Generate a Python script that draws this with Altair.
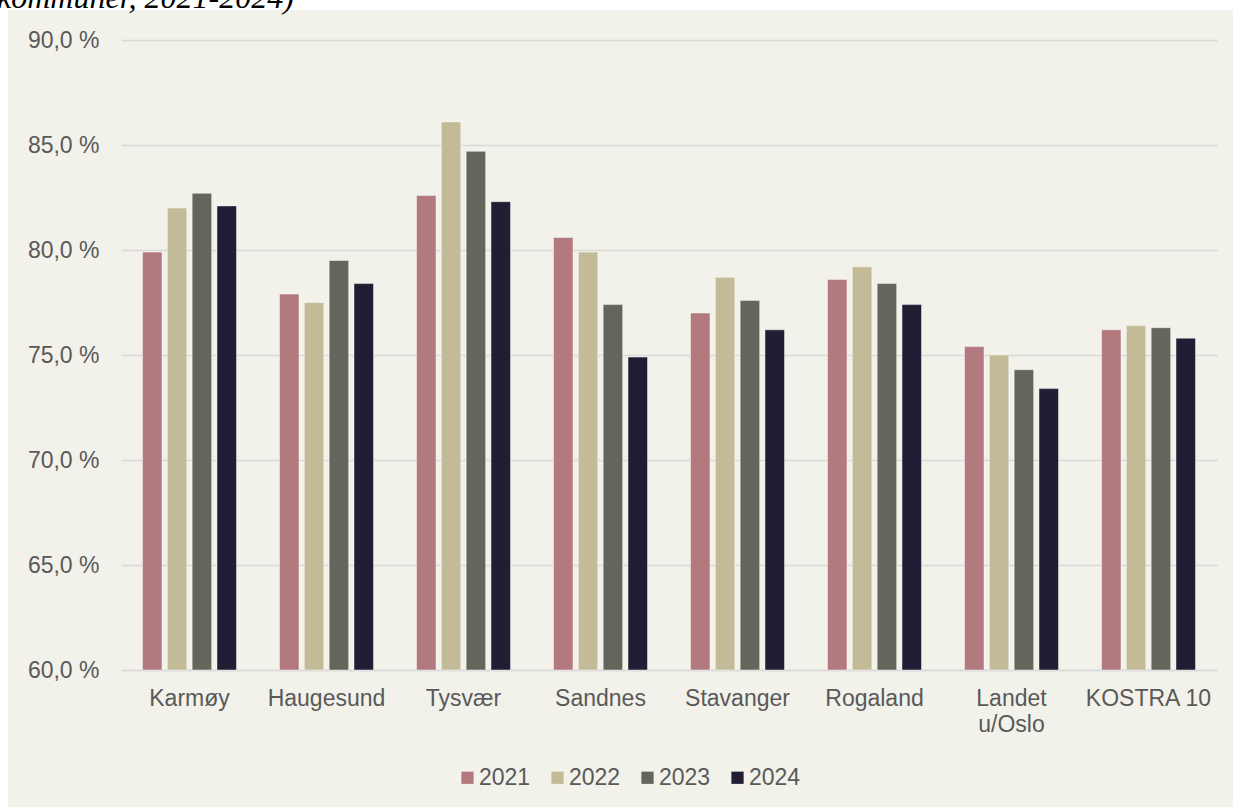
import altair as alt
import pandas as pd

# Categories (municipalities / comparison groups) and series years
kategorier = ["Karmøy", "Haugesund", "Tysvær", "Sandnes", "Stavanger",
              "Rogaland", "Landet u/Oslo", "KOSTRA 10"]
aar = ["2021", "2022", "2023", "2024"]

# Share in percent per category, one list per year
v2021 = [79.9, 77.9, 82.6, 80.6, 77.0, 78.6, 75.4, 76.2]
v2022 = [82.0, 77.5, 86.1, 79.9, 78.7, 79.2, 75.0, 76.4]
v2023 = [82.7, 79.5, 84.7, 77.4, 77.6, 78.4, 74.3, 76.3]
v2024 = [82.1, 78.4, 82.3, 74.9, 76.2, 77.4, 73.4, 75.8]

y_ticks = [60, 65, 70, 75, 80, 85, 90]
y_min, y_max = 60, 90
farger = ["#b27a7e", "#c3bb97", "#65665b", "#221c35"]

rows = []
for year, vals in zip(aar, [v2021, v2022, v2023, v2024]):
    for k, v in zip(kategorier, vals):
        rows.append({"Kategori": k, "År": year, "Andel": v})
df = pd.DataFrame(rows)

W, H = 1096, 630
PAD = {"left": 121, "top": 40, "right": 16, "bottom": 137}
BG = "#f2f1ea"
TXT = "#595959"
FONT = "Liberation Sans"
one = pd.DataFrame({"p": [0]})

# White page margins above and left of the beige panel
top_strip = alt.Chart(one).mark_rect(color="#ffffff").encode(
    x=alt.value(-PAD["left"]), x2=alt.value(W + PAD["right"]),
    y=alt.value(-PAD["top"]), y2=alt.value(10 - PAD["top"]),
)
left_strip = alt.Chart(one).mark_rect(color="#ffffff").encode(
    x=alt.value(-PAD["left"]), x2=alt.value(8 - PAD["left"]),
    y=alt.value(-PAD["top"]), y2=alt.value(H + PAD["bottom"]),
)

# Caption line running off the top edge
caption = alt.Chart(one).mark_text(
    text="kommuner, 2021-2024)",
    font="Liberation Serif", fontStyle="italic", fontSize=32,
    color="#000000", align="left", baseline="alphabetic",
).encode(
    x=alt.value(-3 - PAD["left"]),
    y=alt.value(8 - PAD["top"]),
)

bars = alt.Chart(df).mark_bar(
    stroke="#ffffff", strokeOpacity=0.45, strokeWidth=1
).encode(
    x=alt.X("Kategori:N", sort=kategorier,
            scale=alt.Scale(paddingInner=0.314, paddingOuter=0.157),
            axis=alt.Axis(
                title=None, labelAngle=0, ticks=False,
                domainColor="#d9d9d9", domainWidth=1.5,
                labelFont=FONT, labelFontSize=23, labelColor=TXT,
                labelPadding=17, labelLineHeight=26, labelBaseline="top",
                labelExpr="datum.label == 'Landet u/Oslo' ? ['Landet', 'u/Oslo'] : datum.label",
            )),
    xOffset=alt.XOffset("År:N", sort=aar,
                        scale=alt.Scale(paddingInner=0.215, paddingOuter=0)),
    y=alt.Y("Andel:Q",
            scale=alt.Scale(domain=[y_min, y_max], zero=False, nice=False),
            axis=alt.Axis(
                title=None, values=y_ticks, ticks=False, domain=False,
                gridColor="#d9d9d9", gridWidth=1.5,
                labelFont=FONT, labelFontSize=23, labelColor=TXT,
                labelPadding=22,
                labelExpr="replace(format(datum.value, '.1f'), '.', ',') + ' %'",
            )),
    y2=alt.Y2(datum=y_min),
    color=alt.Color("År:N", sort=aar,
                    scale=alt.Scale(domain=aar, range=farger),
                    legend=alt.Legend(
                        title=None, orient="none", direction="horizontal",
                        legendX=335, legendY=726,
                        symbolType="square", symbolSize=150,
                        symbolStrokeWidth=0, labelOffset=0,
                        columnPadding=15, symbolOpacity=1,
                        labelFont=FONT, labelFontSize=23, labelColor=TXT,
                    )),
)

chart = alt.layer(bars, top_strip, left_strip, caption).properties(
    width=W, height=H,
    autosize=alt.AutoSizeParams(type="none"),
    padding=PAD,
    background=BG,
).configure_view(stroke=None)

chart.save("out.html", embed_options={"renderer": "svg", "actions": False})
